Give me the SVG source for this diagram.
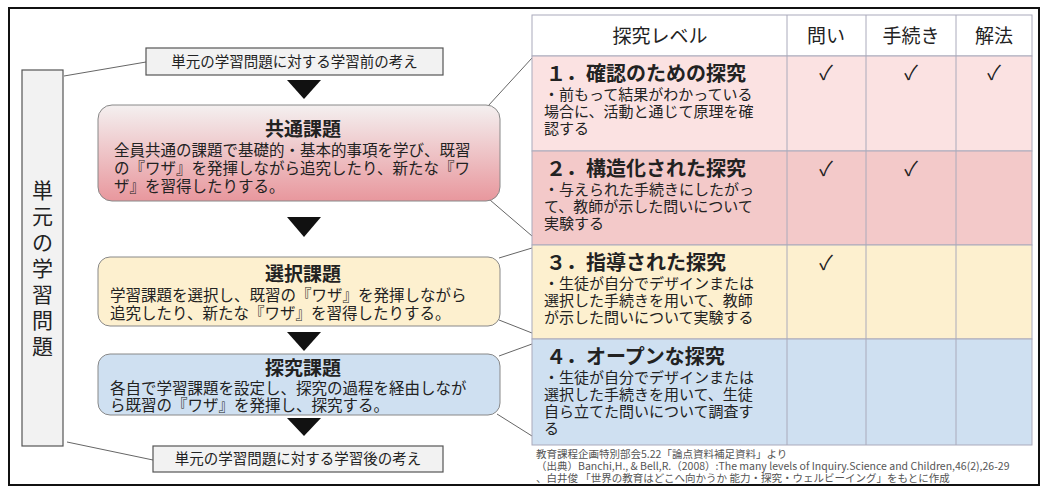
<svg xmlns="http://www.w3.org/2000/svg" width="1051" height="499" viewBox="0 0 1051 499">
<style>
text{font-family:"Noto Sans CJK JP","Noto Sans",sans-serif;fill:#222}
.box{fill:#f2f2f2;stroke:#555;stroke-width:1.2}
.lnk{stroke:#666;stroke-width:1;fill:none}
.tri{fill:#111}
.t{font-size:19px;font-weight:bold;text-anchor:middle}
.b{font-size:15.5px}
.h{font-size:19px;text-anchor:middle}
.rt{font-size:20px;font-weight:bold}
.rs{font-size:15px}
.ck{font-size:20px;text-anchor:middle}
.cell{stroke:#aab;stroke-width:1}
.fn{font-size:10.5px;fill:#555}
</style>
<defs>
<linearGradient id="gr" x1="0" y1="0" x2="0" y2="1"><stop offset="0" stop-color="#f4f0f0"/><stop offset="1" stop-color="#e8979d"/></linearGradient>
</defs>
<rect x="0" y="0" width="1051" height="499" fill="#fff"/>
<rect x="9" y="8" width="1030" height="477" fill="none" stroke="#111" stroke-width="2"/>
<g id="connectors">
<line class="lnk" x1="64" y1="76" x2="146" y2="62"/>
<line class="lnk" x1="67" y1="442" x2="153" y2="460"/>
<line class="lnk" x1="488" y1="106" x2="532" y2="58"/>
<line class="lnk" x1="490" y1="200" x2="532" y2="236"/>
<line class="lnk" x1="499" y1="258" x2="532" y2="248"/>
<line class="lnk" x1="499" y1="320" x2="532" y2="333"/>
<line class="lnk" x1="499" y1="356" x2="532" y2="344"/>
<line class="lnk" x1="497" y1="414" x2="532" y2="436"/>
<polygon class="tri" points="287,80 321,80 304,99"/>
<polygon class="tri" points="287,217 321,217 304,237"/>
<polygon class="tri" points="287,332 321,332 304,351"/>
<polygon class="tri" points="287,418 321,418 304,436"/>
</g>
<g id="unit">
<rect class="box" x="22" y="70" width="41" height="376"/>
<text x="42.5" y="198" font-size="21" text-anchor="middle">単</text>
<text x="42.5" y="224" font-size="21" text-anchor="middle">元</text>
<text x="42.5" y="250" font-size="21" text-anchor="middle">の</text>
<text x="42.5" y="276" font-size="21" text-anchor="middle">学</text>
<text x="42.5" y="302" font-size="21" text-anchor="middle">習</text>
<text x="42.5" y="328" font-size="21" text-anchor="middle">問</text>
<text x="42.5" y="354" font-size="21" text-anchor="middle">題</text>
</g>
<g id="before">
<rect class="box" x="146" y="48" width="297" height="27"/>
<text x="294.5" y="67" font-size="14.5" text-anchor="middle">単元の学習問題に対する学習前の考え</text>
</g>
<g id="common">
<rect x="98" y="105" width="402" height="96" rx="14" fill="url(#gr)" stroke="#888"/>
<text class="t" x="303" y="136">共通課題</text>
<text class="b" x="114" y="156">全員共通の課題で基礎的・基本的事項を学び、既習</text>
<text class="b" x="114" y="174">の『ワザ』を発揮しながら追究したり、新たな『ワ</text>
<text class="b" x="114" y="192">ザ』を習得したりする。</text>
</g>
<g id="select">
<rect x="98" y="257" width="402" height="69" rx="12" fill="#fdf0cf" stroke="#888"/>
<text class="t" x="303" y="281">選択課題</text>
<text class="b" x="110" y="301">学習課題を選択し、既習の『ワザ』を発揮しながら</text>
<text class="b" x="110" y="319">追究したり、新たな『ワザ』を習得したりする。</text>
</g>
<g id="inquiry">
<rect x="98" y="354" width="402" height="61" rx="12" fill="#cfe0f1" stroke="#888"/>
<text class="t" x="303" y="375">探究課題</text>
<text class="b" x="110" y="394">各自で学習課題を設定し、探究の過程を経由しなが</text>
<text class="b" x="110" y="411">ら既習の『ワザ』を発揮し、探究する。</text>
</g>
<g id="after">
<rect class="box" x="153" y="446" width="290" height="26"/>
<text x="298" y="464" font-size="14.5" text-anchor="middle">単元の学習問題に対する学習後の考え</text>
</g>
<g id="table">
<rect class="cell" x="532" y="15" width="500" height="41" fill="#fff"/>
<rect class="cell" x="532" y="56" width="500" height="95" fill="#fbe2e2"/>
<rect class="cell" x="532" y="151" width="500" height="94" fill="#f3c9c9"/>
<rect class="cell" x="532" y="245" width="500" height="94" fill="#fdf0cf"/>
<rect class="cell" x="532" y="339" width="500" height="106" fill="#cfe0f1"/>
<line class="cell" x1="787" y1="15" x2="787" y2="445"/>
<line class="cell" x1="866" y1="15" x2="866" y2="445"/>
<line class="cell" x1="956" y1="15" x2="956" y2="445"/>
<text class="h" x="660" y="43">探究レベル</text>
<text class="h" x="826" y="43">問い</text>
<text class="h" x="911" y="43">手続き</text>
<text class="h" x="994" y="43">解法</text>
<text class="rt" x="546" y="81">１．確認のための探究</text>
<text class="rs" x="544" y="100">・前もって結果がわかっている</text>
<text class="rs" x="544" y="117">場合に、活動と通じて原理を確</text>
<text class="rs" x="544" y="134">認する</text>
<text class="ck" x="826" y="80">✓</text><text class="ck" x="911" y="80">✓</text><text class="ck" x="994" y="80">✓</text>
<text class="rt" x="546" y="176">２．構造化された探究</text>
<text class="rs" x="544" y="195">・与えられた手続きにしたがっ</text>
<text class="rs" x="544" y="212">て、教師が示した問いについて</text>
<text class="rs" x="544" y="229">実験する</text>
<text class="ck" x="826" y="176">✓</text><text class="ck" x="911" y="176">✓</text>
<text class="rt" x="546" y="270">３．指導された探究</text>
<text class="rs" x="544" y="289">・生徒が自分でデザインまたは</text>
<text class="rs" x="544" y="306">選択した手続きを用いて、教師</text>
<text class="rs" x="544" y="323">が示した問いについて実験する</text>
<text class="ck" x="826" y="270">✓</text>
<text class="rt" x="546" y="364">４．オープンな探究</text>
<text class="rs" x="544" y="383">・生徒が自分でデザインまたは</text>
<text class="rs" x="544" y="400">選択した手続きを用いて、生徒</text>
<text class="rs" x="544" y="417">自ら立てた問いについて調査す</text>
<text class="rs" x="544" y="434">る</text>
</g>
<g id="footnote">
<text class="fn" x="536" y="458">教育課程企画特別部会5.22「論点資料補足資料」より</text>
<text class="fn" x="536" y="470">（出典）Banchi,H., &amp; Bell,R.（2008）:The many levels of Inquiry.Science and Children,46(2),26-29</text>
<text class="fn" x="536" y="482">、白井俊 「世界の教育はどこへ向かうか 能力・探究・ウェルビーイング」をもとに作成</text>
</g>
</svg>
